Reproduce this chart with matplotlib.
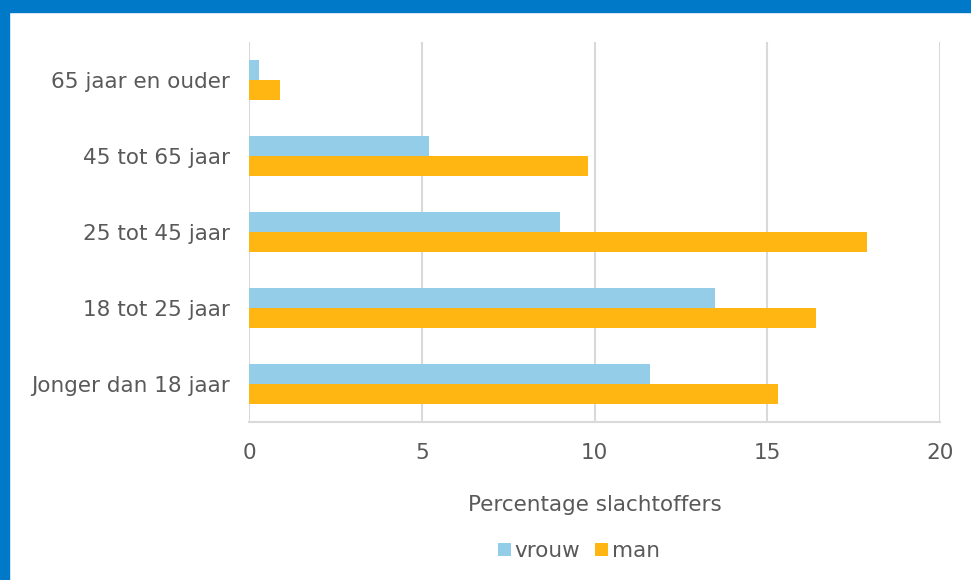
import numpy as np
import matplotlib.pyplot as plt
from matplotlib.patches import Rectangle

plt.rcParams['font.family'] = ['DejaVu Sans']

categories = ['65 jaar en ouder', '45 tot 65 jaar', '25 tot 45 jaar',
              '18 tot 25 jaar', 'Jonger dan 18 jaar']
vrouw = [0.3, 5.2, 9.0, 13.5, 11.6]
man = [0.9, 9.8, 17.9, 16.4, 15.3]
xticks = [0, 5, 10, 15, 20]

txt = '#595959'
grid = '#D9D9D9'
blauw = '#0079C8'
fs = 15.5

fig = plt.figure(figsize=(9.71, 5.80), dpi=100)
ax = fig.add_axes([249/971, 158/580, 691/971, 380/580])

y = np.arange(len(categories))
h = 0.263
ax.barh(y - h/2, vrouw, height=h, color='#93CDE8', label='vrouw', zorder=3)
ax.barh(y + h/2, man, height=h, color='#FFB612', label='man', zorder=3)

ax.set_ylim(len(categories) - 0.5, -0.5)
ax.set_xlim(0, 20)
ax.set_xticks(xticks)
ax.set_yticks(y)
ax.set_yticklabels(categories)
ax.tick_params(length=0, labelsize=fs, colors=txt)
ax.tick_params(axis='x', pad=15)
ax.tick_params(axis='y', pad=14)
ax.grid(axis='x', color=grid, linewidth=1.5, zorder=0)
for s in ['top', 'right', 'left']:
    ax.spines[s].set_visible(False)
ax.spines['bottom'].set_color(grid)
ax.spines['bottom'].set_linewidth(1.5)

ax.set_xlabel('Percentage slachtoffers', fontsize=fs, color=txt, labelpad=23)

leg = ax.legend(loc='center', bbox_to_anchor=(579/971, 29/580),
                bbox_transform=fig.transFigure, ncol=2, frameon=False,
                fontsize=fs, handlelength=0.6, handleheight=0.6,
                handletextpad=0.15, columnspacing=0.7)
for t in leg.get_texts():
    t.set_color(txt)

# blauwe rand
fig.patches.append(Rectangle((0, 1 - 12/580), 1, 12/580, transform=fig.transFigure,
                             color=blauw, zorder=0))
fig.patches.append(Rectangle((0, 0), 9/971, 1, transform=fig.transFigure,
                             color=blauw, zorder=0))

fig.savefig('out.png', dpi=100)
